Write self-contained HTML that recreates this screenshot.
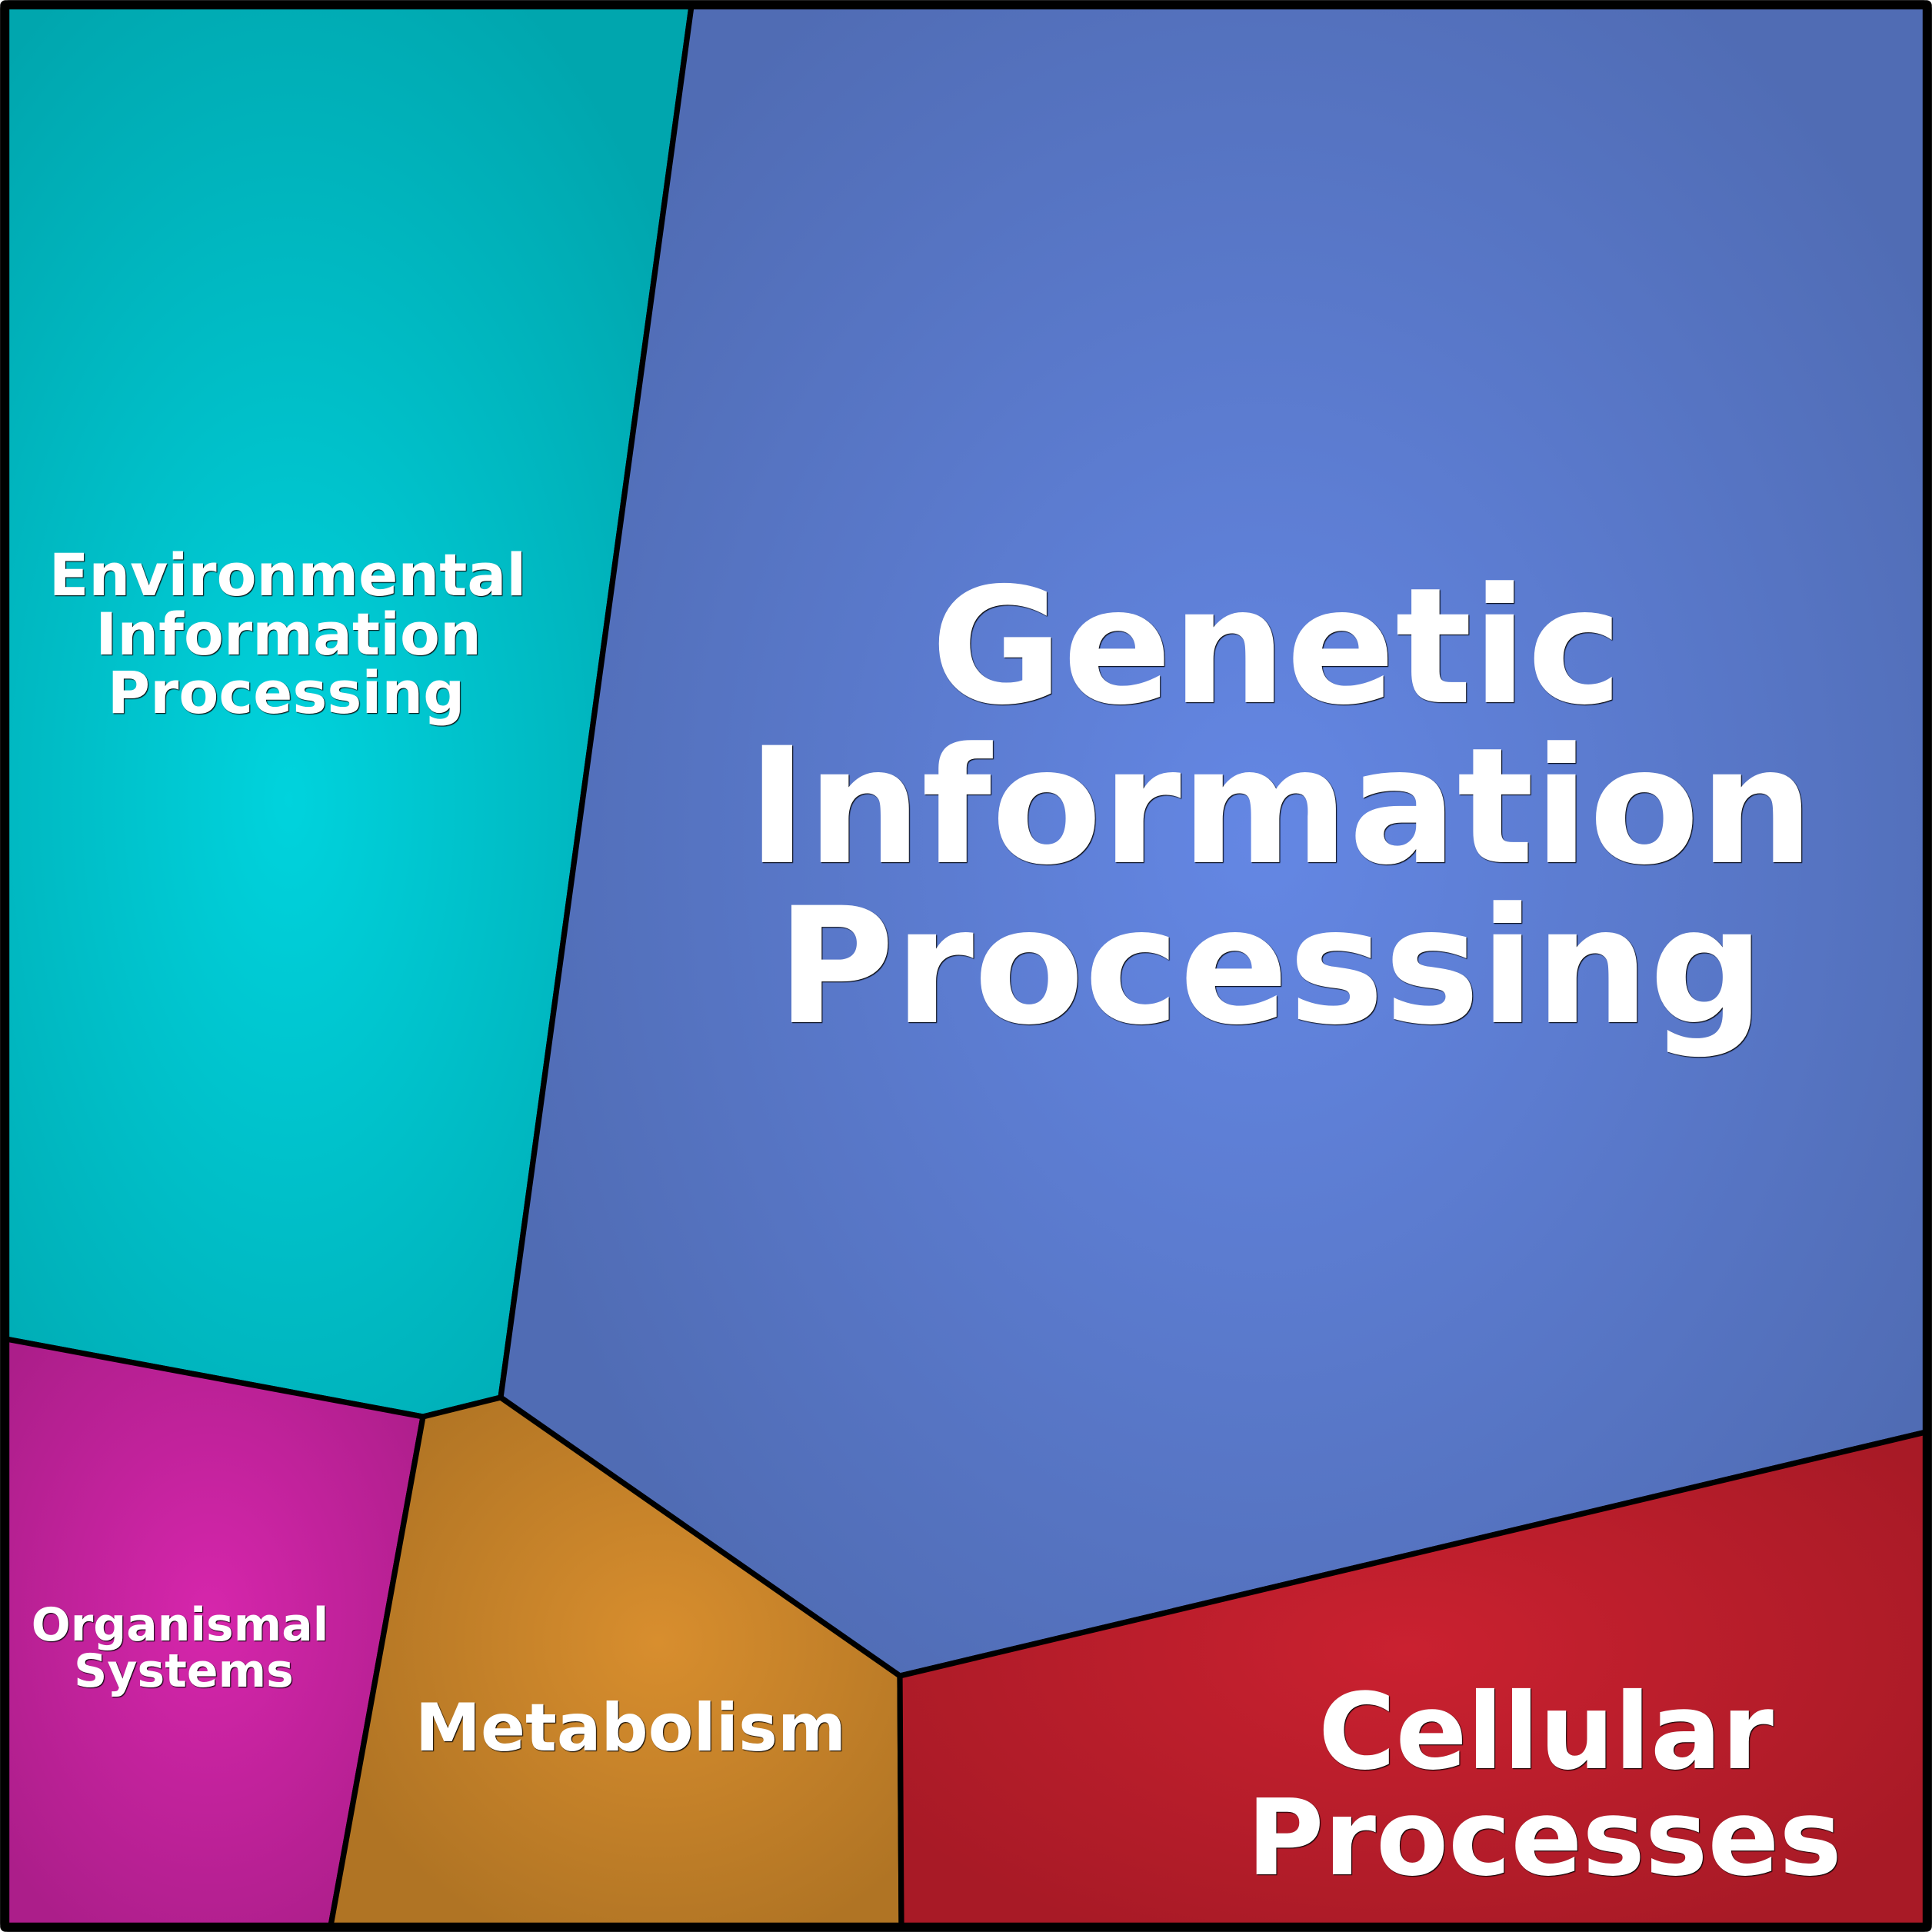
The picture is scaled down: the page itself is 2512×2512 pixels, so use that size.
<!DOCTYPE html>
<html><head><meta charset="utf-8"><style>
html,body{margin:0;padding:0;background:#fff}
svg{display:block}
text{font-family:"DejaVu Sans","Liberation Sans",sans-serif;font-weight:bold;fill:#fff;text-anchor:middle}
.s{filter:drop-shadow(1px 1px 0.5px #000)}
</style></head><body>
<svg width="2512" height="2512" viewBox="0 0 2512 2512" xmlns="http://www.w3.org/2000/svg">
<defs>
<radialGradient id="b" gradientUnits="userSpaceOnUse" cx="0" cy="0" r="1" gradientTransform="translate(1640 1090) scale(1030 1320)"><stop offset="0" stop-color="#6487e4"/><stop offset="1" stop-color="#506cb4"/></radialGradient>
<radialGradient id="t" gradientUnits="userSpaceOnUse" cx="0" cy="0" r="1" gradientTransform="translate(376 1040) scale(620 1200)"><stop offset="0" stop-color="#00d3dd"/><stop offset="1" stop-color="#00a6ae"/></radialGradient>
<radialGradient id="m" gradientUnits="userSpaceOnUse" cx="0" cy="0" r="1" gradientTransform="translate(272 2100) scale(350 480)"><stop offset="0" stop-color="#d626ac"/><stop offset="1" stop-color="#ac1e8a"/></radialGradient>
<radialGradient id="o" gradientUnits="userSpaceOnUse" cx="0" cy="0" r="1" gradientTransform="translate(855 2135) scale(445 420)"><stop offset="0" stop-color="#d88e2e"/><stop offset="1" stop-color="#b07424"/></radialGradient>
<radialGradient id="r" gradientUnits="userSpaceOnUse" cx="0" cy="0" r="1" gradientTransform="translate(1830 2145) scale(800 420)"><stop offset="0" stop-color="#ca2130"/><stop offset="1" stop-color="#a81a26"/></radialGradient>
</defs>
<rect x="0.2" y="0.2" width="2511.6" height="2511.6" rx="7" ry="7" fill="#000"/>
<g stroke="#000" stroke-width="7.2" stroke-linejoin="miter">
<polygon fill="url(#t)" points="8,8 899,8 651,1817 550,1842 8,1741"/>
<polygon fill="url(#b)" points="899,8 2504,8 2504,1862 1170,2179 651,1817"/>
<polygon fill="url(#m)" points="8,1741 550,1842 430,2504 8,2504"/>
<polygon fill="url(#o)" points="550,1842 651,1817 1170,2179 1172,2504 430,2504"/>
<polygon fill="url(#r)" points="1170,2179 2504,1862 2504,2504 1172,2504"/>
</g>
<rect x="6.2" y="6.2" width="2499.6" height="2499.6" rx="5" ry="5" fill="none" stroke="#000" stroke-width="12"/>
<g class="s" font-size="209">
<text x="1660" y="913">Genetic</text>
<text x="1665" y="1121">Information</text>
<text x="1652" y="1329">Processing</text>
</g>
<g class="s" font-size="75.6">
<text x="374" y="774">Environmental</text>
<text x="375" y="851">Information</text>
<text x="372" y="927">Processing</text>
</g>
<g class="s" font-size="60">
<text x="234" y="2133">Organismal</text>
<text x="239" y="2193">Systems</text>
</g>
<g class="s" font-size="85.5"><text x="820" y="2276">Metabolism</text></g>
<g class="s" font-size="137">
<text x="2010" y="2299">Cellular</text>
<text x="2008" y="2437">Processes</text>
</g>
</svg>
</body></html>
